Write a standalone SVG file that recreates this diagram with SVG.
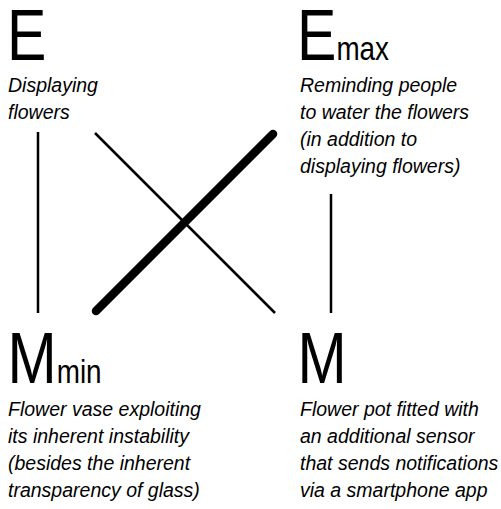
<svg xmlns="http://www.w3.org/2000/svg" width="501" height="509" viewBox="0 0 501 509">
<style>
.big{font-family:"Liberation Sans",Arial,sans-serif;font-size:72px;fill:#000}
.sub{font-size:34px}
.desc{font-family:"Liberation Sans",Arial,sans-serif;font-style:italic;font-size:19.5px;fill:#000}
.thin{stroke:#000;stroke-width:2.5;fill:none}
.thick{stroke:#000;stroke-width:8.5;stroke-linecap:round;fill:none}
</style>
<rect width="501" height="509" fill="#fff"/>
<g id="connectors">
<line class="thin" x1="38" y1="132" x2="38" y2="313"/>
<line class="thin" x1="331" y1="194" x2="331" y2="313"/>
<line class="thin" x1="95" y1="133" x2="275" y2="313"/>
<line class="thick" x1="96" y1="311" x2="273" y2="134"/>
</g>
<g id="E">
<text class="big" transform="translate(7,60) scale(0.82,1)">E</text>
<text class="desc"><tspan x="8" y="92">Displaying</tspan><tspan x="8" y="119">flowers</tspan></text>
</g>
<g id="Emax">
<text class="big" transform="translate(297,60) scale(0.82,1)">E<tspan class="sub">max</tspan></text>
<text class="desc"><tspan x="300" y="92">Reminding people</tspan><tspan x="300" y="119">to water the flowers</tspan><tspan x="300" y="146">(in addition to</tspan><tspan x="300" y="173">displaying flowers)</tspan></text>
</g>
<g id="Mmin">
<text class="big" transform="translate(7.5,383) scale(0.82,1)">M<tspan class="sub">min</tspan></text>
<text class="desc"><tspan x="8" y="416">Flower vase exploiting</tspan><tspan x="8" y="443">its inherent instability</tspan><tspan x="8" y="470">(besides the inherent</tspan><tspan x="8" y="497">transparency of glass)</tspan></text>
</g>
<g id="M">
<text class="big" transform="translate(297.5,383) scale(0.82,1)">M</text>
<text class="desc"><tspan x="300" y="416">Flower pot fitted with</tspan><tspan x="300" y="443">an additional sensor</tspan><tspan x="300" y="470">that sends notifications</tspan><tspan x="300" y="497">via a smartphone app</tspan></text>
</g>
</svg>
